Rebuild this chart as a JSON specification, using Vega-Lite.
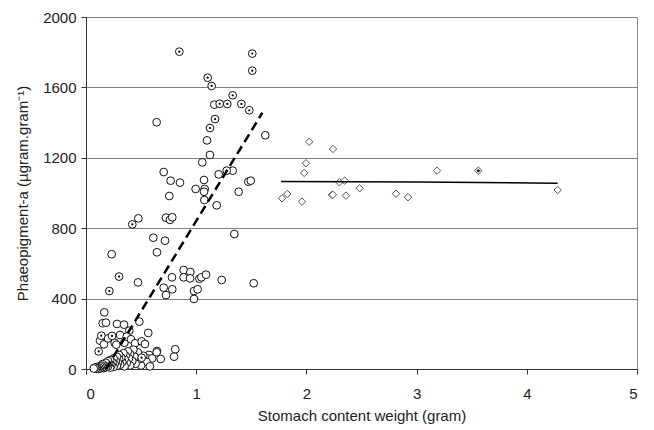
{
  "$schema": "https://vega.github.io/schema/vega-lite/v6.json",
  "width": 551,
  "height": 352,
  "padding": {"left": 86, "top": 17, "right": 17, "bottom": 61},
  "autosize": {"type": "none"},
  "background": "white",
  "config": {
    "font": "Liberation Sans",
    "view": {"stroke": "#888888", "strokeWidth": 1}
  },
  "datasets": {
    "points": [
      {"x": 1.164, "y": 1502, "type": "open"},
      {"x": 0.641, "y": 1402, "type": "open"},
      {"x": 1.098, "y": 1299, "type": "open"},
      {"x": 1.627, "y": 1328, "type": "open"},
      {"x": 1.125, "y": 1216, "type": "open"},
      {"x": 1.055, "y": 1174, "type": "open"},
      {"x": 0.705, "y": 1119, "type": "open"},
      {"x": 0.768, "y": 1070, "type": "open"},
      {"x": 0.853, "y": 1059, "type": "open"},
      {"x": 1.071, "y": 1074, "type": "open"},
      {"x": 1.204, "y": 1106, "type": "open"},
      {"x": 1.331, "y": 1127, "type": "open"},
      {"x": 1.473, "y": 1064, "type": "open"},
      {"x": 1.495, "y": 1070, "type": "open"},
      {"x": 0.756, "y": 983, "type": "open"},
      {"x": 0.995, "y": 1023, "type": "open"},
      {"x": 1.077, "y": 1023, "type": "open"},
      {"x": 1.071, "y": 1007, "type": "open"},
      {"x": 1.385, "y": 1007, "type": "open"},
      {"x": 1.074, "y": 960, "type": "open"},
      {"x": 1.186, "y": 930, "type": "open"},
      {"x": 0.475, "y": 856, "type": "open"},
      {"x": 0.726, "y": 860, "type": "open"},
      {"x": 0.762, "y": 847, "type": "open"},
      {"x": 0.783, "y": 862, "type": "open"},
      {"x": 1.346, "y": 767, "type": "open"},
      {"x": 0.611, "y": 746, "type": "open"},
      {"x": 0.717, "y": 729, "type": "open"},
      {"x": 0.644, "y": 663, "type": "open"},
      {"x": 0.233, "y": 652, "type": "open"},
      {"x": 0.886, "y": 562, "type": "open"},
      {"x": 0.947, "y": 551, "type": "open"},
      {"x": 0.886, "y": 521, "type": "open"},
      {"x": 0.944, "y": 515, "type": "open"},
      {"x": 0.78, "y": 521, "type": "open"},
      {"x": 1.029, "y": 513, "type": "open"},
      {"x": 1.047, "y": 521, "type": "open"},
      {"x": 1.089, "y": 536, "type": "open"},
      {"x": 1.231, "y": 506, "type": "open"},
      {"x": 1.522, "y": 487, "type": "open"},
      {"x": 0.472, "y": 492, "type": "open"},
      {"x": 0.705, "y": 462, "type": "open"},
      {"x": 0.783, "y": 453, "type": "open"},
      {"x": 0.726, "y": 420, "type": "open"},
      {"x": 0.98, "y": 443, "type": "open"},
      {"x": 1.013, "y": 453, "type": "open"},
      {"x": 0.98, "y": 398, "type": "open"},
      {"x": 0.166, "y": 322, "type": "open"},
      {"x": 0.151, "y": 260, "type": "open"},
      {"x": 0.181, "y": 263, "type": "open"},
      {"x": 0.281, "y": 256, "type": "open"},
      {"x": 0.345, "y": 252, "type": "open"},
      {"x": 0.484, "y": 269, "type": "open"},
      {"x": 0.309, "y": 193, "type": "open"},
      {"x": 0.393, "y": 218, "type": "open"},
      {"x": 0.565, "y": 205, "type": "open"},
      {"x": 0.127, "y": 161, "type": "open"},
      {"x": 0.163, "y": 140, "type": "open"},
      {"x": 0.2, "y": 174, "type": "open"},
      {"x": 0.26, "y": 149, "type": "open"},
      {"x": 0.275, "y": 138, "type": "open"},
      {"x": 0.348, "y": 149, "type": "open"},
      {"x": 0.369, "y": 184, "type": "open"},
      {"x": 0.408, "y": 169, "type": "open"},
      {"x": 0.445, "y": 146, "type": "open"},
      {"x": 0.505, "y": 157, "type": "open"},
      {"x": 0.535, "y": 142, "type": "open"},
      {"x": 0.644, "y": 102, "type": "open"},
      {"x": 0.81, "y": 112, "type": "open"},
      {"x": 0.678, "y": 57, "type": "open"},
      {"x": 0.799, "y": 70, "type": "open"},
      {"x": 0.641, "y": 95, "type": "open"},
      {"x": 0.572, "y": 80, "type": "open"},
      {"x": 0.556, "y": 61, "type": "open"},
      {"x": 0.6, "y": 60, "type": "open"},
      {"x": 0.55, "y": 40, "type": "open"},
      {"x": 0.58, "y": 15, "type": "open"},
      {"x": 0.52, "y": 75, "type": "open"},
      {"x": 0.5, "y": 20, "type": "open"},
      {"x": 0.48, "y": 55, "type": "open"},
      {"x": 0.47, "y": 95, "type": "open"},
      {"x": 0.45, "y": 30, "type": "open"},
      {"x": 0.44, "y": 70, "type": "open"},
      {"x": 0.43, "y": 110, "type": "open"},
      {"x": 0.42, "y": 45, "type": "open"},
      {"x": 0.4, "y": 85, "type": "open"},
      {"x": 0.4, "y": 20, "type": "open"},
      {"x": 0.39, "y": 60, "type": "open"},
      {"x": 0.38, "y": 100, "type": "open"},
      {"x": 0.37, "y": 35, "type": "open"},
      {"x": 0.36, "y": 75, "type": "open"},
      {"x": 0.35, "y": 55, "type": "open"},
      {"x": 0.35, "y": 15, "type": "open"},
      {"x": 0.34, "y": 90, "type": "open"},
      {"x": 0.33, "y": 40, "type": "open"},
      {"x": 0.32, "y": 65, "type": "open"},
      {"x": 0.31, "y": 25, "type": "open"},
      {"x": 0.3, "y": 80, "type": "open"},
      {"x": 0.3, "y": 55, "type": "open"},
      {"x": 0.29, "y": 35, "type": "open"},
      {"x": 0.28, "y": 18, "type": "open"},
      {"x": 0.28, "y": 70, "type": "open"},
      {"x": 0.27, "y": 45, "type": "open"},
      {"x": 0.26, "y": 28, "type": "open"},
      {"x": 0.25, "y": 12, "type": "open"},
      {"x": 0.25, "y": 60, "type": "open"},
      {"x": 0.24, "y": 38, "type": "open"},
      {"x": 0.23, "y": 20, "type": "open"},
      {"x": 0.22, "y": 50, "type": "open"},
      {"x": 0.22, "y": 8, "type": "open"},
      {"x": 0.21, "y": 30, "type": "open"},
      {"x": 0.2, "y": 15, "type": "open"},
      {"x": 0.2, "y": 45, "type": "open"},
      {"x": 0.19, "y": 25, "type": "open"},
      {"x": 0.18, "y": 10, "type": "open"},
      {"x": 0.18, "y": 35, "type": "open"},
      {"x": 0.17, "y": 18, "type": "open"},
      {"x": 0.16, "y": 5, "type": "open"},
      {"x": 0.15, "y": 28, "type": "open"},
      {"x": 0.15, "y": 10, "type": "open"},
      {"x": 0.14, "y": 20, "type": "open"},
      {"x": 0.13, "y": 3, "type": "open"},
      {"x": 0.13, "y": 15, "type": "open"},
      {"x": 0.12, "y": 7, "type": "open"},
      {"x": 0.11, "y": 0, "type": "open"},
      {"x": 0.1, "y": 12, "type": "open"},
      {"x": 0.1, "y": 5, "type": "open"},
      {"x": 0.09, "y": 2, "type": "open"},
      {"x": 0.08, "y": 8, "type": "open"},
      {"x": 0.07, "y": 3, "type": "open"},
      {"x": 0.847, "y": 1803, "type": "dot"},
      {"x": 1.509, "y": 1792, "type": "dot"},
      {"x": 1.509, "y": 1695, "type": "dot"},
      {"x": 1.104, "y": 1655, "type": "dot"},
      {"x": 1.14, "y": 1608, "type": "dot"},
      {"x": 1.213, "y": 1507, "type": "dot"},
      {"x": 1.282, "y": 1506, "type": "dot"},
      {"x": 1.331, "y": 1555, "type": "dot"},
      {"x": 1.41, "y": 1506, "type": "dot"},
      {"x": 1.482, "y": 1470, "type": "dot"},
      {"x": 1.171, "y": 1420, "type": "dot"},
      {"x": 1.125, "y": 1369, "type": "dot"},
      {"x": 1.277, "y": 1127, "type": "dot"},
      {"x": 0.42, "y": 822, "type": "dot"},
      {"x": 0.3, "y": 525, "type": "dot"},
      {"x": 0.212, "y": 443, "type": "dot"},
      {"x": 0.139, "y": 189, "type": "dot"},
      {"x": 0.236, "y": 188, "type": "dot"},
      {"x": 0.115, "y": 100, "type": "dot"},
      {"x": 0.505, "y": 64, "type": "dot"},
      {"x": 2.026, "y": 1291, "type": "diamond"},
      {"x": 2.241, "y": 1250, "type": "diamond"},
      {"x": 1.996, "y": 1169, "type": "diamond"},
      {"x": 1.98, "y": 1114, "type": "diamond"},
      {"x": 2.299, "y": 1061, "type": "diamond"},
      {"x": 2.347, "y": 1070, "type": "diamond"},
      {"x": 2.483, "y": 1027, "type": "diamond"},
      {"x": 1.827, "y": 994, "type": "diamond"},
      {"x": 1.779, "y": 970, "type": "diamond"},
      {"x": 1.96, "y": 951, "type": "diamond"},
      {"x": 2.232, "y": 989, "type": "diamond"},
      {"x": 2.24, "y": 990, "type": "diamond"},
      {"x": 2.359, "y": 985, "type": "diamond"},
      {"x": 2.813, "y": 996, "type": "diamond"},
      {"x": 2.922, "y": 976, "type": "diamond"},
      {"x": 3.185, "y": 1127, "type": "diamond"},
      {"x": 4.28, "y": 1017, "type": "diamond"},
      {"x": 3.56, "y": 1127, "type": "diamonddot"}
    ],
    "dashed": [
      {"x": 0.18, "y": 0},
      {"x": 1.6, "y": 1456}
    ],
    "solid": [
      {"x": 1.77, "y": 1065},
      {"x": 3.0, "y": 1063},
      {"x": 4.28, "y": 1055}
    ]
  },
  "layer": [
    {
      "data": {"name": "points"},
      "transform": [{"filter": "datum.type === 'open' || datum.type === 'dot'"}],
      "mark": {"type": "point", "shape": "circle", "size": 60, "filled": false, "fill": "white", "fillOpacity": 1, "stroke": "#111111", "strokeWidth": 1, "opacity": 1},
      "encoding": {
        "x": {
          "field": "x", "type": "quantitative",
          "scale": {"domain": [0, 5], "nice": false, "zero": true},
          "axis": {
            "title": "Stomach content weight (gram)",
            "values": [0, 0.5, 1, 1.5, 2, 2.5, 3, 3.5, 4, 4.5, 5],
            "format": "d",
            "labelExpr": "datum.value % 1 === 0 ? datum.label : ''",
            "grid": false,
            "domainColor": "#333333",
            "tickColor": "#333333",
            "tickSize": 5,
            "labelFont": "Liberation Sans",
            "labelFontSize": 15,
            "labelColor": "#222222",
            "labelPadding": 12,
            "titleFont": "Liberation Sans",
            "titleFontSize": 15,
            "titleFontWeight": "normal",
            "titleColor": "#222222",
            "titlePadding": 7
          }
        },
        "y": {
          "field": "y", "type": "quantitative",
          "scale": {"domain": [0, 2000], "nice": false},
          "axis": {
            "title": "Phaeopigment-a  (µgram.gram⁻¹)",
            "values": [0, 200, 400, 600, 800, 1000, 1200, 1400, 1600, 1800, 2000],
            "labelExpr": "datum.value % 400 === 0 ? datum.label : ''",
            "format": "d",
            "grid": true,
            "gridColor": "#808080",
            "gridWidth": 1,
            "gridOpacity": {"condition": {"test": "datum.value % 400 === 0", "value": 1}, "value": 0},
            "domainColor": "#333333",
            "tickColor": "#333333",
            "tickSize": 5,
            "labelFont": "Liberation Sans",
            "labelFontSize": 15,
            "labelColor": "#222222",
            "labelPadding": 5,
            "titleFont": "Liberation Sans",
            "titleFontSize": 15,
            "titleFontWeight": "normal",
            "titleColor": "#222222",
            "titlePadding": 12
          }
        }
      }
    },
    {
      "data": {"name": "points"},
      "transform": [{"filter": "datum.type === 'dot'"}],
      "mark": {"type": "point", "shape": "circle", "size": 5, "filled": true, "color": "#000000", "opacity": 1},
      "encoding": {
        "x": {"field": "x", "type": "quantitative"},
        "y": {"field": "y", "type": "quantitative"}
      }
    },
    {
      "data": {"name": "points"},
      "transform": [{"filter": "datum.type === 'diamond' || datum.type === 'diamonddot'"}],
      "mark": {"type": "point", "shape": "diamond", "size": 55, "filled": false, "fill": "white", "fillOpacity": 1, "stroke": "#555555", "strokeWidth": 1, "opacity": 1},
      "encoding": {
        "x": {"field": "x", "type": "quantitative"},
        "y": {"field": "y", "type": "quantitative"}
      }
    },
    {
      "data": {"name": "points"},
      "transform": [{"filter": "datum.type === 'diamonddot'"}],
      "mark": {"type": "point", "shape": "diamond", "size": 12, "filled": true, "color": "#000000", "opacity": 1},
      "encoding": {
        "x": {"field": "x", "type": "quantitative"},
        "y": {"field": "y", "type": "quantitative"}
      }
    },
    {
      "data": {"name": "dashed"},
      "mark": {"type": "line", "color": "#000000", "strokeWidth": 2.5, "strokeDash": [9, 5]},
      "encoding": {
        "x": {"field": "x", "type": "quantitative"},
        "y": {"field": "y", "type": "quantitative"}
      }
    },
    {
      "data": {"name": "solid"},
      "mark": {"type": "line", "color": "#000000", "strokeWidth": 1.5},
      "encoding": {
        "x": {"field": "x", "type": "quantitative"},
        "y": {"field": "y", "type": "quantitative"}
      }
    }
  ]
}
